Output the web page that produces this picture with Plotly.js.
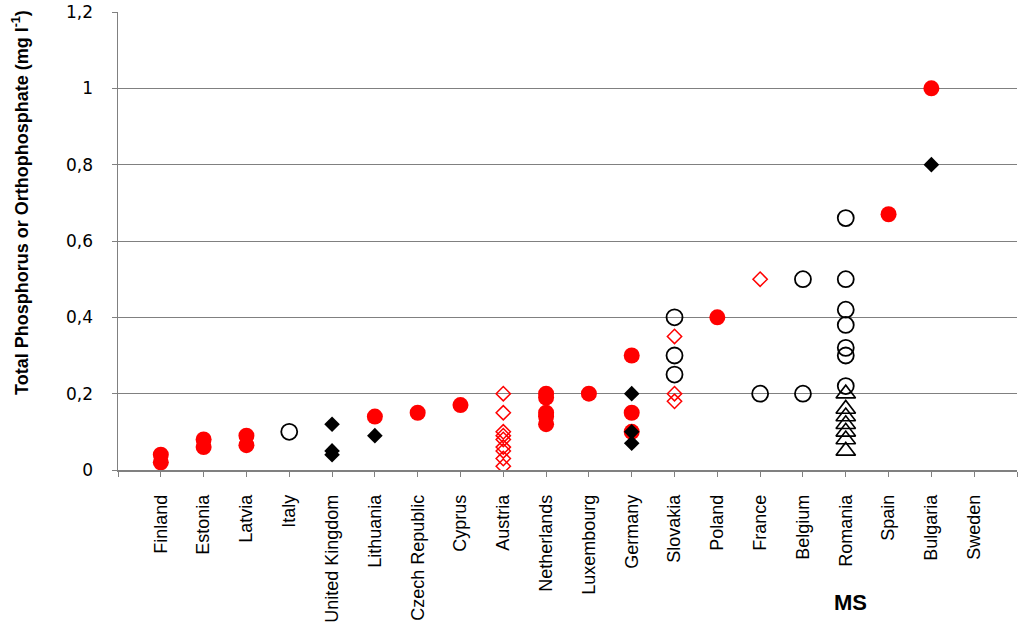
<!DOCTYPE html>
<html>
<head>
<meta charset="utf-8">
<script src="https://cdn.plot.ly/plotly-3.0.1.min.js"></script>
<style>html,body{margin:0;padding:0;background:#fff;}#chart{width:1024px;height:631px;}</style>
</head>
<body>
<div id="chart"></div>
<script>
var categories = ['Finland','Estonia','Latvia','Italy','United Kingdom','Lithuania','Czech Republic','Cyprus','Austria','Netherlands','Luxembourg','Germany','Slovakia','Poland','France','Belgium','Romania','Spain','Bulgaria','Sweden'];

var redCircleCountry = ['Finland','Finland','Estonia','Estonia','Latvia','Latvia','Lithuania','Czech Republic','Cyprus','Netherlands','Netherlands','Netherlands','Netherlands','Netherlands','Luxembourg','Germany','Germany','Germany','Poland','Spain','Bulgaria'];
var redCircleValue   = [0.04,0.02,0.08,0.06,0.09,0.065,0.14,0.15,0.17,0.2,0.19,0.15,0.14,0.12,0.2,0.3,0.15,0.1,0.4,0.67,1.0];

var blackDiamondCountry = ['United Kingdom','United Kingdom','United Kingdom','Lithuania','Germany','Germany','Germany','Bulgaria'];
var blackDiamondValue   = [0.12,0.05,0.04,0.09,0.2,0.1,0.07,0.8];

var openDiamondCountry = ['Austria','Austria','Austria','Austria','Austria','Austria','Austria','Austria','Austria','Slovakia','Slovakia','Slovakia','France'];
var openDiamondValue   = [0.2,0.15,0.1,0.09,0.08,0.06,0.05,0.03,0.01,0.35,0.2,0.18,0.5];

var openCircleCountry = ['Italy','Slovakia','Slovakia','Slovakia','France','Belgium','Belgium','Romania','Romania','Romania','Romania','Romania','Romania','Romania'];
var openCircleValue   = [0.1,0.4,0.3,0.25,0.2,0.5,0.2,0.66,0.5,0.42,0.38,0.32,0.3,0.22];

var triangleCountry = ['Romania','Romania','Romania','Romania','Romania','Romania','Romania'];
var triangleValue   = [0.2,0.16,0.14,0.12,0.1,0.08,0.05];

var yTickVals = [0,0.2,0.4,0.6,0.8,1.0,1.2];
var yTickText = ['0','0,2','0,4','0,6','0,8','1','1,2'];

function pos(list){ return list.map(function(c){ return categories.indexOf(c)+1; }); }

var xTickVals = categories.map(function(c,i){return i+1;});

var traces = [
  {x: pos(openCircleCountry), y: openCircleValue, mode:'markers', type:'scatter',
   marker:{symbol:'circle-open', size:16, color:'#000', line:{width:1.8, color:'#000'}}},
  {x: pos(triangleCountry), y: triangleValue, mode:'markers', type:'scatter',
   marker:{symbol:'triangle-up-open', size:17, color:'#000', line:{width:1.6, color:'#000'}}},
  {x: pos(openDiamondCountry), y: openDiamondValue, mode:'markers', type:'scatter',
   marker:{symbol:'diamond-open', size:11, color:'#ff0000', line:{width:1.5, color:'#ff0000'}}},
  {x: pos(redCircleCountry), y: redCircleValue, mode:'markers', type:'scatter',
   marker:{symbol:'circle', size:16, color:'#ff0000', line:{width:0}}},
  {x: pos(blackDiamondCountry), y: blackDiamondValue, mode:'markers', type:'scatter',
   marker:{symbol:'diamond', size:12, color:'#000', line:{width:0}}}
];

var layout = {
  width:1024, height:631,
  margin:{l:118, r:7, t:12, b:161},
  paper_bgcolor:'#fff', plot_bgcolor:'#fff',
  showlegend:false,
  separators:', ',
  font:{family:'Liberation Sans, Arial, sans-serif', color:'#000', size:18},
  xaxis:{range:[0,21], tickmode:'array', tickvals:xTickVals, ticktext:categories,
         tickangle:-90, ticks:'outside', ticklen:5, tickcolor:'#808080', tickwidth:1,
         minor:{tickmode:'linear', tick0:0, dtick:1, ticks:'outside', ticklen:5, tickcolor:'#808080', tickwidth:1, showgrid:false},
         showline:true, linecolor:'#808080', linewidth:1.5, showgrid:false, zeroline:false,
         ticklabelstandoff:11, tickfont:{size:18}, fixedrange:true},
  yaxis:{range:[0,1.2], tickmode:'array', tickvals:yTickVals, ticktext:yTickText,
         ticks:'outside', ticklen:5, tickcolor:'#808080', tickwidth:1,
         showline:true, linecolor:'#808080', linewidth:1.5, showgrid:true, gridcolor:'#808080', gridwidth:1,
         zeroline:false, ticklabelstandoff:15, tickfont:{size:17, family:'DejaVu Sans, sans-serif'}, fixedrange:true},
  annotations:[
    {text:'MS', xref:'paper', yref:'paper', x:(850-118)/899, y:-(602-470)/458, xanchor:'center', yanchor:'middle',
     showarrow:false, font:{size:22, family:'Liberation Sans, Arial, sans-serif', weight:'bold'}},
    {text:'<b>Total Phosphorus or Orthophosphate (mg l<sup>-1</sup>)</b>', xref:'paper', yref:'paper',
     x:-(118-20)/899, y:(470-203)/458, xanchor:'center', yanchor:'middle', textangle:-90,
     showarrow:false, font:{size:18, family:'Liberation Sans, Arial, sans-serif'}}
  ]
};

Plotly.newPlot('chart', traces, layout, {displayModeBar:false, staticPlot:true});
</script>
</body>
</html>
